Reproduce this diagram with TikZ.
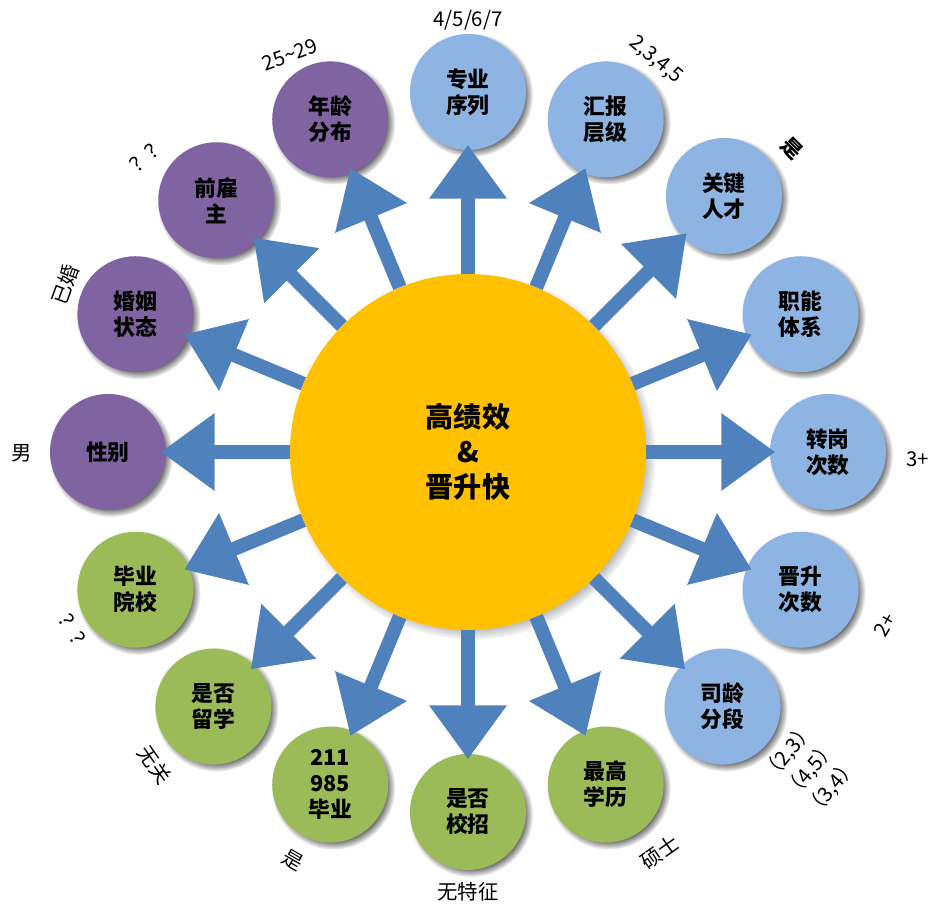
\documentclass[tikz,border=0pt]{standalone}
\usepackage{fontspec}
\setmainfont{Noto Sans CJK SC}
\usetikzlibrary{arrows.meta,shadows}
\definecolor{hubyellow}{HTML}{FFC000}
\definecolor{ballblue}{HTML}{8DB4E2}
\definecolor{ballpurple}{HTML}{8064A2}
\definecolor{ballgreen}{HTML}{9BBB59}
\definecolor{arrowblue}{HTML}{4F81BD}
\tikzset{
  ball/.style={circle,minimum size=2.9cm,inner sep=0pt,align=center,
    font=\bfseries\fontsize{15.5}{18.5}\selectfont,
    circular drop shadow={shadow xshift=2pt,shadow yshift=-2pt,shadow scale=1.07,fill=black!60}},
  blue ball/.style={ball,fill=ballblue},
  purple ball/.style={ball,fill=ballpurple},
  green ball/.style={ball,fill=ballgreen},
  note/.style={font=\fontsize{14.5}{22}\selectfont,align=center,inner sep=1pt},
  arr/.style={draw=arrowblue,line width=10pt,
    -{Triangle[width=1.85cm,length=1.35cm]},shorten >=-4pt}
}
\begin{document}
\begin{tikzpicture}
\useasboundingbox (-11.7,-11.45) rectangle (11.9,11.3);
\node [circle,fill=hubyellow,minimum size=8.9cm,inner sep=0pt,align=center,
  font=\bfseries\fontsize{20}{25}\selectfont,
  circular drop shadow={shadow xshift=3pt,shadow yshift=-3pt,shadow scale=1.03,fill=black!60}]
  at (0,0) (hub) {高绩效\\\&\\晋升快};

% outer balls
\node [blue ball] at (90:9cm) (n1) {专业\\序列};
\node [blue ball] at (67.5:9cm) (n2) {汇报\\层级};
\node [blue ball] at (45:9.05cm) (n3) {关键\\人才};
\node [blue ball] at (22.5:9cm) (n4) {职能\\体系};
\node [blue ball] at (0:9cm) (n5) {转岗\\次数};
\node [blue ball] at (-22.5:9cm) (n6) {晋升\\次数};
\node [blue ball] at (-45:9cm) (n7) {司龄\\分段};
\node [green ball] at (-67.5:9cm) (n8) {最高\\学历};
\node [green ball] at (-90:9cm) (n9) {是否\\校招};
\node [green ball] at (-112.5:9cm) (n10) {211\\985\\毕业};
\node [green ball] at (-135:9cm) (n11) {是否\\留学};
\node [green ball] at (-157.5:9cm) (n12) {毕业\\院校};
\node [purple ball] at (180:9cm) (n13) {性别};
\node [purple ball] at (157.5:9cm) (n14) {婚姻\\状态};
\node [purple ball] at (135:8.9cm) (n15) {前雇\\主};
\node [purple ball] at (112.5:9cm) (n16) {年龄\\分布};

\foreach \i in {1,...,16}
  \draw [arr] (hub) -- (n\i);

% values
\node [note] at (0,10.8) (v1) {4/5/6/7};
\node [note,rotate=-40] at (4.7,9.8) (v2) {2,3,4,5};
\node [note,rotate=-45] at (8.1,7.6) (v3) {\bfseries 是};
\node [note] at (11.25,-0.18) (v5) {3+};
\node [note,rotate=60] at (10.43,-4.33) (v6) {2+};
\node [note,rotate=50,font=\fontsize{14.5}{20}\selectfont] at (8.55,-7.95) (v7) {（2,3）\\（4,5）\\（3,4）};
\node [note,rotate=35] at (4.8,-10.0) (v8) {硕士};
\node [note] at (0,-11.0) (v9) {无特征};
\node [note,rotate=-30] at (-4.38,-10.2) (v10) {是};
\node [note,rotate=-55] at (-7.83,-7.83) (v11) {无关};
\node [note,rotate=-60] at (-9.83,-4.53) (v12) {？？};
\node [note] at (-11.15,-0.03) (v13) {男};
\node [note,rotate=70] at (-10.08,4.18) (v14) {已婚};
\node [note,rotate=40] at (-8.0,7.43) (v15) {？？};
\node [note,rotate=20] at (-4.45,9.93) (v16) {25\textasciitilde29};
\end{tikzpicture}
\end{document}
